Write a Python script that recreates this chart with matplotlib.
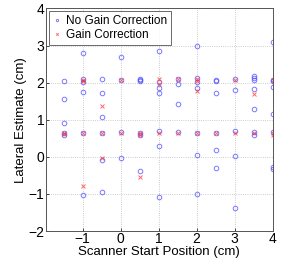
import matplotlib
matplotlib.use("Agg")
import matplotlib.pyplot as plt

plt.rcParams["font.family"] = ["Liberation Sans", "DejaVu Sans"]

# start positions (cm) and lateral estimates per trial
x_pos = [-1.5, -1, -0.5, 0, 0.5, 1, 1.5, 2, 2.5, 3, 3.5, 4]

no_gain = [
    [2.04, 1.55, 0.92, 0.64, 0.60],
    [2.80, 2.10, 2.01, 1.74, 0.64, -1.03],
    [2.11, 1.73, 1.08, 0.64, -0.09, -0.95],
    [2.70, 2.08, 0.67, -0.04],
    [2.10, 2.07, 2.04, 0.64, 0.58, -0.37],
    [2.85, 2.01, 1.85, 1.71, 0.70, 0.28, -1.09],
    [2.11, 1.96, 1.42, 0.67],
    [2.98, 2.13, 2.03, 1.85, 0.65, 0.05, -0.99],
    [2.08, 2.04, 1.72, 0.65, 0.18, -0.30],
    [2.11, 1.81, 0.69, 0.03, -1.37],
    [2.18, 2.13, 2.07, 1.83, 1.29, 0.67, 0.58],
    [3.10, 2.08, 2.04, 1.88, 1.15, 0.67, -0.28, -0.32],
]

gain = [
    [0.63, 0.61],
    [2.08, 2.04, 0.64, -0.78],
    [1.38, 0.64, -0.04],
    [2.08, 0.65],
    [0.64, 0.60, -0.55],
    [2.10, 1.97, 0.64],
    [2.10, 0.64],
    [2.10, 2.05, 1.77, 0.64],
    [0.64],
    [2.08, 0.64],
    [1.70, 0.64],
    [2.08, 0.64, 0.60],
]


def flatten(groups):
    xs, ys = [], []
    for x, vals in zip(x_pos, groups):
        for v in vals:
            xs.append(x)
            ys.append(v)
    return xs, ys


fig = plt.figure(figsize=(3.05, 2.62), dpi=100)
ax = fig.add_axes([0.150, 0.118, 0.744, 0.850])

bx, by = flatten(no_gain)
rx, ry = flatten(gain)
ax.plot(bx, by, "o", ls="none", ms=3.3, mfc="none", mec=(0.3, 0.3, 1.0),
        mew=0.7, alpha=0.75, label="No Gain Correction")
ax.plot(rx, ry, "x", ls="none", ms=3.3, mec=(1.0, 0.2, 0.2), mew=0.7,
        alpha=0.75, label="Gain Correction")

ax.set_xlim(-1.97, 4)
ax.set_ylim(-2, 4)
ax.set_xticks([-1, 0, 1, 2, 3, 4])
ax.set_yticks([-2, -1, 0, 1, 2, 3, 4])
ax.set_xticklabels(["\u22121", "0", "1", "2", "3", "4"])
ax.set_yticklabels(["\u22122", "\u22121", "0", "1", "2", "3", "4"])
ax.grid(True, ls=":", color="#bbbbbb", lw=0.6)
ax.tick_params(direction="in", length=2, labelsize=10, pad=1, width=0.5)
for s in ax.spines.values():
    s.set_color("#555555")
    s.set_linewidth(0.7)

ax.set_xlabel("Scanner Start Position (cm)", fontsize=9.5, labelpad=0)
ax.set_ylabel("Lateral Estimate (cm)", fontsize=9.5, labelpad=1)

leg = ax.legend(loc="upper left", fontsize=8.5, handlelength=0.8,
                handletextpad=0.4, borderpad=0.3, labelspacing=0.2,
                borderaxespad=0.25, fancybox=False, markerscale=0.5)
leg.get_frame().set_edgecolor("#444444")
leg.get_frame().set_linewidth(0.7)

fig.savefig("out.png", dpi=100)
